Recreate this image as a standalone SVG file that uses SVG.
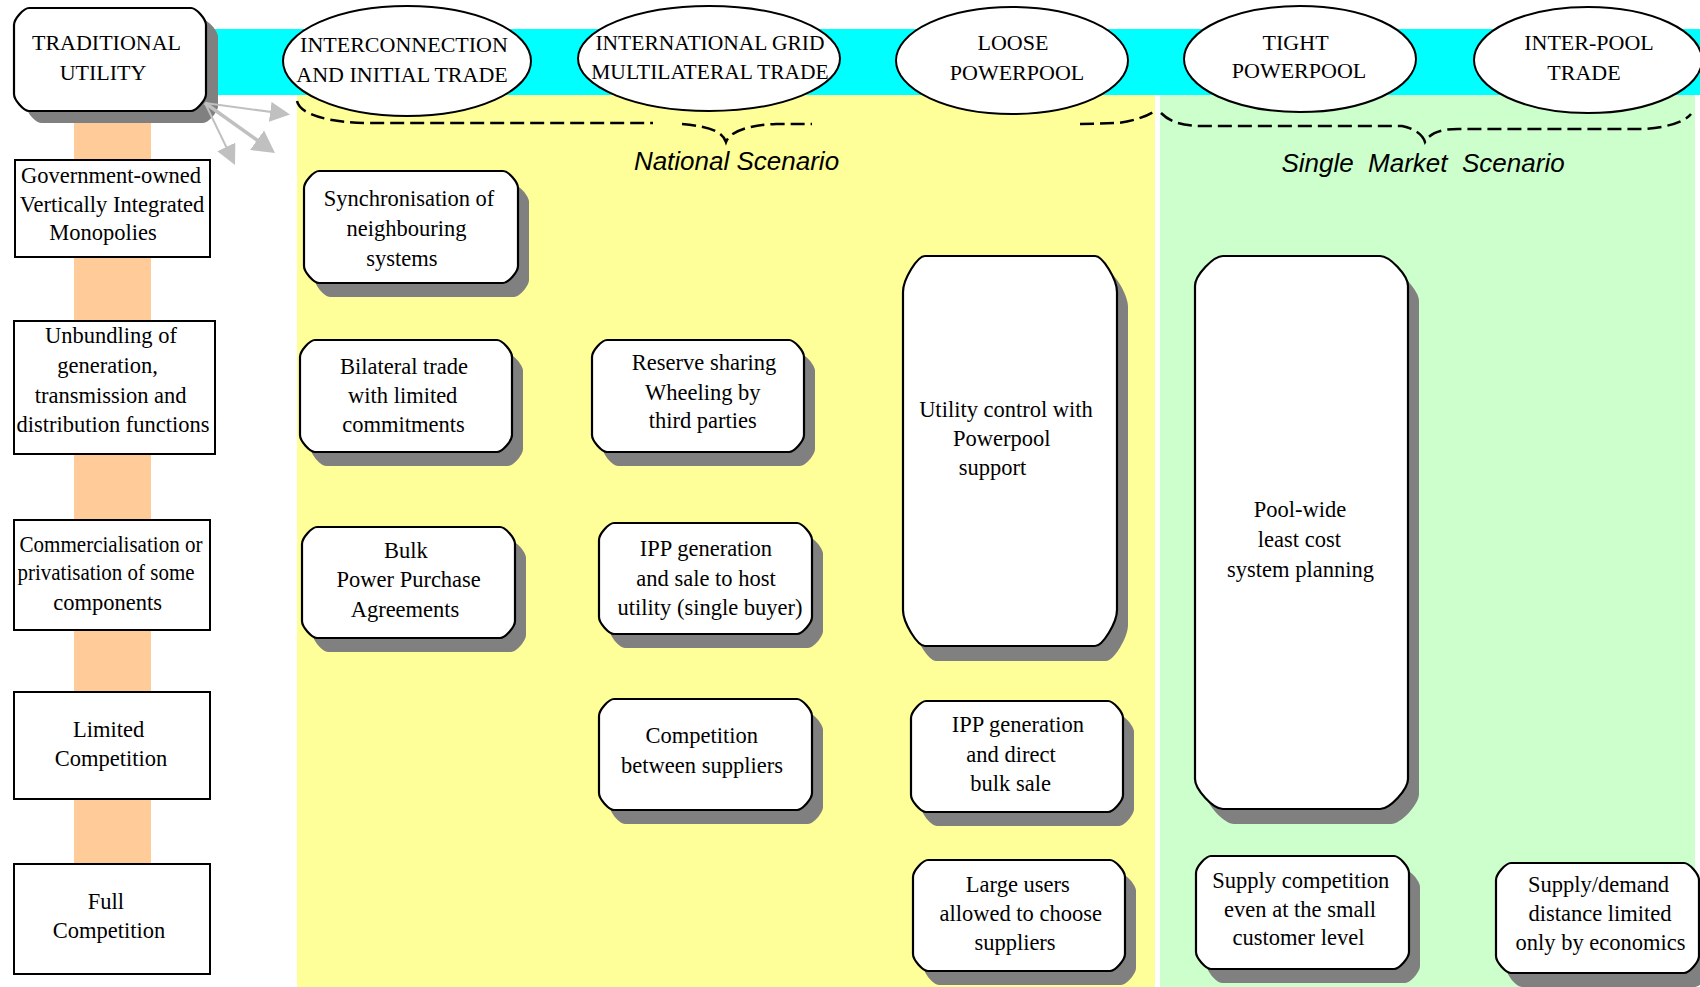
<svg xmlns="http://www.w3.org/2000/svg" width="1700" height="987" viewBox="0 0 1700 987">
<defs>
<style>
.box{fill:#fff;stroke:#000;stroke-width:2.2}
.shd{fill:#808080;stroke:none}
.lvl{fill:#fff;stroke:#000;stroke-width:2}
.ell{fill:#fff;stroke:#000;stroke-width:2}
text{font-family:"Liberation Serif","Times New Roman",serif;font-size:22.5px;fill:#000;text-anchor:middle}
.hd{font-size:22px}
.hds{font-size:21.5px}
.scn{font-family:"Liberation Sans",Arial,sans-serif;font-style:italic;font-size:26px;white-space:pre}
.brace{fill:none;stroke:#000;stroke-width:2.5;stroke-dasharray:14 6}
.arr{stroke:#c0c0c0;fill:none}
</style>
<marker id="ah" viewBox="0 0 20 20" refX="14" refY="10" markerWidth="20" markerHeight="20" markerUnits="userSpaceOnUse" orient="auto"><path d="M0,0 L20,10 L0,20 Z" fill="#c0c0c0"/></marker>
<marker id="ahL" viewBox="0 0 22 24" refX="16" refY="12" markerWidth="22" markerHeight="24" markerUnits="userSpaceOnUse" orient="auto"><path d="M0,0 L22,12 L0,24 Z" fill="#c0c0c0"/></marker>
<path id="p-tu" d="M29,8 H191 C196.25,8 206,19.05 206,25 V94 C206,99.95 196.25,111 191,111 H29 C23.75,111 14,99.95 14,94 V25 C14,19.05 23.75,8 29,8 Z"/>
<path id="p1" d="M319,171 H503 C508.25,171 518,182.05 518,188 V266 C518,271.95 508.25,283 503,283 H319 C313.75,283 304,271.95 304,266 V188 C304,182.05 313.75,171 319,171 Z"/>
<path id="p2" d="M315,340 H497 C502.25,340 512,351.05 512,357 V435 C512,440.95 502.25,452 497,452 H315 C309.75,452 300,440.95 300,435 V357 C300,351.05 309.75,340 315,340 Z"/>
<path id="p3" d="M317,527 H500 C505.25,527 515,538.05 515,544 V621 C515,626.95 505.25,638 500,638 H317 C311.75,638 302,626.95 302,621 V544 C302,538.05 311.75,527 317,527 Z"/>
<path id="p4" d="M607,340 H789 C794.25,340 804,351.05 804,357 V435 C804,440.95 794.25,452 789,452 H607 C601.75,452 592,440.95 592,435 V357 C592,351.05 601.75,340 607,340 Z"/>
<path id="p5" d="M925,256 H1095 C1102.7,256 1117,279.4 1117,292 V610 C1117,622.6 1102.7,646 1095,646 H925 C917.3,646 903,622.6 903,610 V292 C903,279.4 917.3,256 925,256 Z"/>
<path id="p6" d="M614,523 H797 C802.25,523 812,534.05 812,540 V617 C812,622.95 802.25,634 797,634 H614 C608.75,634 599,622.95 599,617 V540 C599,534.05 608.75,523 614,523 Z"/>
<path id="p7" d="M614,699 H797 C802.25,699 812,710.05 812,716 V793 C812,798.95 802.25,810 797,810 H614 C608.75,810 599,798.95 599,793 V716 C599,710.05 608.75,699 614,699 Z"/>
<path id="p8" d="M926,701 H1108 C1113.25,701 1123,712.05 1123,718 V795 C1123,800.95 1113.25,812 1108,812 H926 C920.75,812 911,800.95 911,795 V718 C911,712.05 920.75,701 926,701 Z"/>
<path id="p9" d="M928,860 H1110 C1115.25,860 1125,871.05 1125,877 V954 C1125,959.95 1115.25,971 1110,971 H928 C922.75,971 913,959.95 913,954 V877 C913,871.05 922.75,860 928,860 Z"/>
<path id="p10" d="M1223,256 H1380 C1389.8,256 1408,275.5 1408,286 V779 C1408,789.5 1389.8,809 1380,809 H1223 C1213.2,809 1195,789.5 1195,779 V286 C1195,275.5 1213.2,256 1223,256 Z"/>
<path id="p11" d="M1211,856 H1394 C1399.25,856 1409,867.05 1409,873 V952 C1409,957.95 1399.25,969 1394,969 H1211 C1205.75,969 1196,957.95 1196,952 V873 C1196,867.05 1205.75,856 1211,856 Z"/>
<path id="p12" d="M1511,863 H1684 C1689.25,863 1699,874.05 1699,880 V956 C1699,961.95 1689.25,973 1684,973 H1511 C1505.75,973 1496,961.95 1496,956 V880 C1496,874.05 1505.75,863 1511,863 Z"/>
</defs>

<g id="background">
<rect x="0" y="0" width="1700" height="987" fill="#fff"/>
<rect x="180" y="29" width="1520" height="66" fill="#00ffff"/>
<rect x="297" y="95" width="858" height="892" fill="#ffff99"/>
<rect x="1160" y="95" width="535" height="892" fill="#ccffcc"/>
<rect x="74" y="111" width="77" height="753" fill="#ffcc99"/>
</g>

<g id="scenario-braces">
<path class="brace" d="M297,101 C300,115 330,123 372,123 L653,123"/>
<path class="brace" d="M682,124 C705,126 722,130 726,142 C730,131 750,125 776,124 L812,124"/>
<path class="brace" d="M1080,124 L1118,123 C1135,121 1150,115 1156,110"/>
<path class="brace" d="M1161,113 C1170,122 1180,125 1200,126 L1402,126 C1412,128 1422,133 1425,142 C1430,133 1440,129 1458,129 L1643,129 C1665,128 1685,122 1691,114"/>
<text class="scn" x="736.5" y="170">National Scenario</text>
<text class="scn" x="1423" y="172" xml:space="preserve">Single  Market  Scenario</text>
</g>

<g id="node-traditional-utility">
<use href="#p-tu" class="shd" transform="translate(12,12)"/>
<use href="#p-tu" class="box"/>
<text class="hd" x="106.5" y="50">TRADITIONAL</text>
<text class="hd" x="103" y="80">UTILITY</text>
</g>

<g id="connectors">
<line class="arr" x1="205" y1="103" x2="284.1" y2="113.7" stroke-width="2" marker-end="url(#ah)"/>
<line class="arr" x1="205" y1="103" x2="270.1" y2="149.5" stroke-width="3.5" marker-end="url(#ahL)"/>
<line class="arr" x1="205" y1="103" x2="232.4" y2="159.6" stroke-width="2" marker-end="url(#ah)"/>
</g>

<g id="level-government-owned">
<rect class="lvl" x="15" y="160" width="195" height="97"/>
<text x="111" y="183">Government-owned</text>
<text x="112" y="212">Vertically Integrated</text>
<text x="103" y="240">Monopolies</text>
</g>
<g id="level-unbundling">
<rect class="lvl" x="14" y="321" width="201" height="133"/>
<text x="111" y="343">Unbundling of</text>
<text x="107.6" y="373">generation,</text>
<text x="110.6" y="403">transmission and</text>
<text x="113" y="432">distribution functions</text>
</g>
<g id="level-commercialisation">
<rect class="lvl" x="14" y="520" width="196" height="110"/>
<text x="111" y="552" textLength="183" lengthAdjust="spacingAndGlyphs">Commercialisation or</text>
<text x="106" y="580" textLength="177" lengthAdjust="spacingAndGlyphs">privatisation of some</text>
<text x="107.6" y="610">components</text>
</g>
<g id="level-limited-competition">
<rect class="lvl" x="14" y="692" width="196" height="107"/>
<text x="108.7" y="737">Limited</text>
<text x="111" y="766">Competition</text>
</g>
<g id="level-full-competition">
<rect class="lvl" x="14" y="864" width="196" height="110"/>
<text x="105.8" y="909">Full</text>
<text x="109" y="938">Competition</text>
</g>

<g id="stage-interconnection">
<ellipse class="ell" cx="407" cy="61" rx="124" ry="55"/>
<text class="hd" x="404" y="52">INTERCONNECTION</text>
<text class="hd" x="402" y="82">AND INITIAL TRADE</text>
</g>
<g id="stage-international-grid">
<ellipse class="ell" cx="709" cy="58.5" rx="131" ry="52.5"/>
<text class="hds" x="710" y="50">INTERNATIONAL GRID</text>
<text class="hds" x="710" y="79">MULTILATERAL TRADE</text>
</g>
<g id="stage-loose-powerpool">
<ellipse class="ell" cx="1012" cy="60.5" rx="116" ry="53.5"/>
<text class="hd" x="1013" y="50">LOOSE</text>
<text class="hd" x="1017" y="80">POWERPOOL</text>
</g>
<g id="stage-tight-powerpool">
<ellipse class="ell" cx="1300" cy="59" rx="116" ry="53"/>
<text class="hd" x="1295.6" y="50">TIGHT</text>
<text class="hd" x="1299" y="78">POWERPOOL</text>
</g>
<g id="stage-inter-pool">
<ellipse class="ell" cx="1588" cy="60" rx="114" ry="53"/>
<text class="hd" x="1589" y="50">INTER-POOL</text>
<text class="hd" x="1584" y="80">TRADE</text>
</g>

<g id="box-synchronisation">
<use href="#p1" class="shd" transform="translate(11,14)"/>
<use href="#p1" class="box"/>
<text x="409" y="205.5">Synchronisation of</text>
<text x="406.6" y="235.5">neighbouring</text>
<text x="402" y="265.5">systems</text>
</g>
<g id="box-bilateral">
<use href="#p2" class="shd" transform="translate(11,14)"/>
<use href="#p2" class="box"/>
<text x="404" y="374">Bilateral trade</text>
<text x="402.7" y="403">with limited</text>
<text x="403.5" y="431.7">commitments</text>
</g>
<g id="box-bulk-ppa">
<use href="#p3" class="shd" transform="translate(11,14)"/>
<use href="#p3" class="box"/>
<text x="406" y="558">Bulk</text>
<text x="408.7" y="586.7">Power Purchase</text>
<text x="405" y="616.7">Agreements</text>
</g>
<g id="box-reserve-sharing">
<use href="#p4" class="shd" transform="translate(11,14)"/>
<use href="#p4" class="box"/>
<text x="704" y="370">Reserve sharing</text>
<text x="702.8" y="400">Wheeling by</text>
<text x="702.7" y="428">third parties</text>
</g>
<g id="box-utility-control">
<use href="#p5" class="shd" transform="translate(11,15)"/>
<use href="#p5" class="box"/>
<text x="1006" y="416.7">Utility control with</text>
<text x="1001.8" y="446">Powerpool</text>
<text x="992.6" y="475">support</text>
</g>
<g id="box-ipp-single-buyer">
<use href="#p6" class="shd" transform="translate(11,14)"/>
<use href="#p6" class="box"/>
<text x="706" y="556">IPP generation</text>
<text x="706" y="586">and sale to host</text>
<text x="710" y="615">utility (single buyer)</text>
</g>
<g id="box-competition-suppliers">
<use href="#p7" class="shd" transform="translate(11,14)"/>
<use href="#p7" class="box"/>
<text x="701.8" y="743.3">Competition</text>
<text x="702" y="772.7">between suppliers</text>
</g>
<g id="box-ipp-direct">
<use href="#p8" class="shd" transform="translate(11,14)"/>
<use href="#p8" class="box"/>
<text x="1017.9" y="731.7">IPP generation</text>
<text x="1011" y="761.7">and direct</text>
<text x="1010.6" y="791">bulk sale</text>
</g>
<g id="box-large-users">
<use href="#p9" class="shd" transform="translate(11,14)"/>
<use href="#p9" class="box"/>
<text x="1017.8" y="891.7">Large users</text>
<text x="1020.7" y="920.7">allowed to choose</text>
<text x="1015" y="950">suppliers</text>
</g>
<g id="box-pool-wide">
<use href="#p10" class="shd" transform="translate(11,15)"/>
<use href="#p10" class="box"/>
<text x="1300" y="516.7">Pool-wide</text>
<text x="1299.4" y="547.3">least cost</text>
<text x="1300.5" y="576.7">system planning</text>
</g>
<g id="box-supply-competition">
<use href="#p11" class="shd" transform="translate(11,14)"/>
<use href="#p11" class="box"/>
<text x="1300.8" y="888.3">Supply competition</text>
<text x="1300" y="916.7">even at the small</text>
<text x="1298.5" y="945">customer level</text>
</g>
<g id="box-supply-demand">
<use href="#p12" class="shd" transform="translate(11,14)"/>
<use href="#p12" class="box"/>
<text x="1598.5" y="891.7">Supply/demand</text>
<text x="1600" y="920.7">distance limited</text>
<text x="1600.6" y="950">only by economics</text>
</g>
</svg>
